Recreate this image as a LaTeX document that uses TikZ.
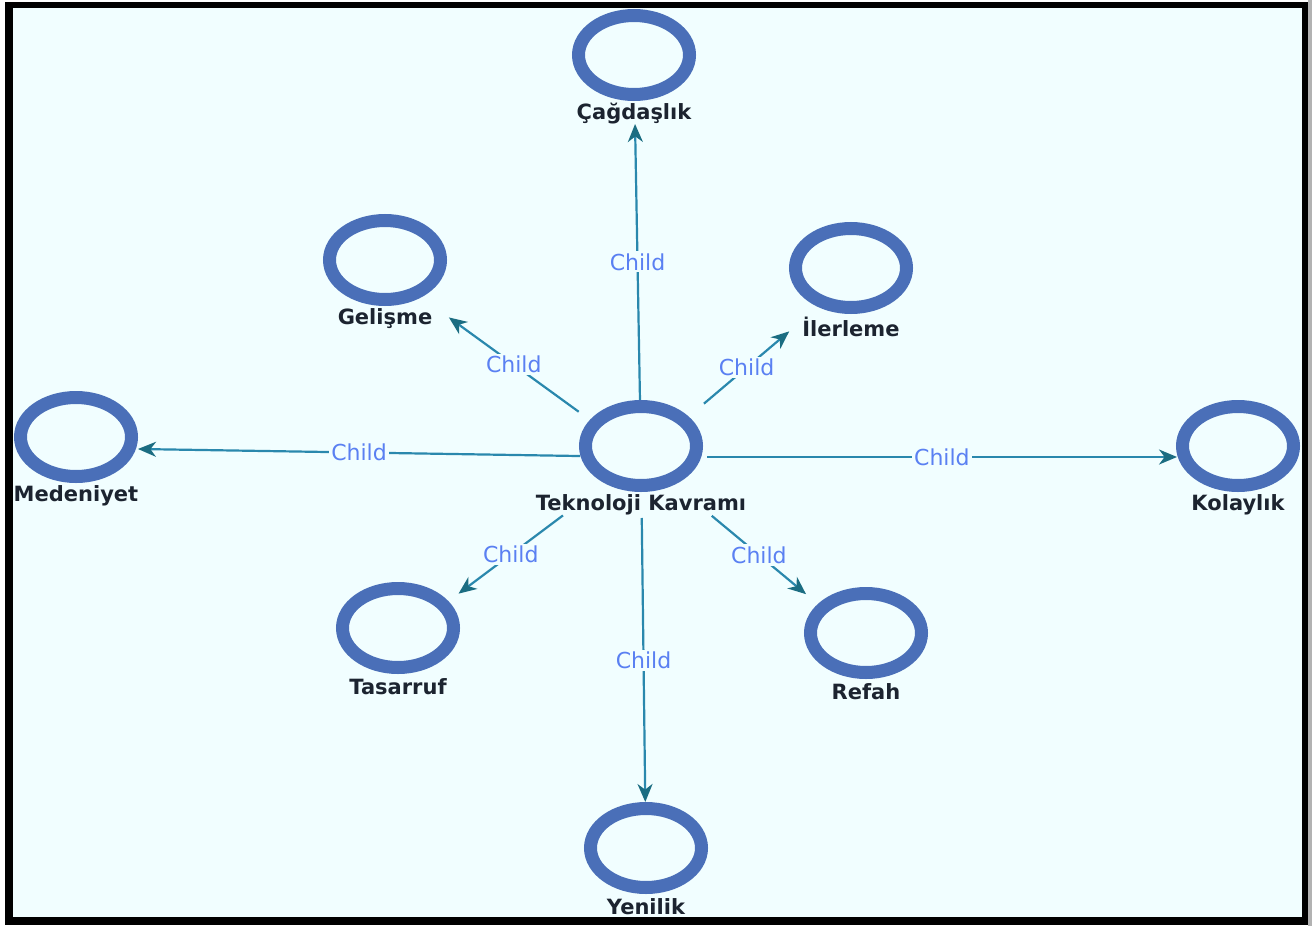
\documentclass[tikz,border=0pt]{standalone}
\usepackage{fontspec}
\setmainfont{DejaVu Sans}
\usetikzlibrary{shapes.geometric,arrows.meta}
\definecolor{bgc}{HTML}{F1FEFF}
\definecolor{ringc}{HTML}{4A6FB8}
\definecolor{edgec}{HTML}{2A88AD}
\definecolor{tipc}{HTML}{1B6D82}
\definecolor{childc}{HTML}{5A80F2}
\definecolor{namec}{HTML}{1C2430}
\tikzset{
  concept/.style={inner sep=0pt, minimum size=1pt},
  ring/.style={ellipse, draw=ringc, line width=6.5pt, fill=bgc, inner sep=0pt,
    minimum width=55.5pt, minimum height=39.5pt},
  cname/.style={inner sep=1pt, text=namec, font=\bfseries\fontsize{10.5}{12}\selectfont},
  edge/.style={draw=edgec, line width=1.1pt, -{Stealth[length=9pt, width=7.5pt, inset=2.8pt, color=tipc]}},
  lbl/.style={fill=bgc, inner sep=1pt, text=childc, font=\fontsize{11}{12}\selectfont}
}
\begin{document}
\begin{tikzpicture}[x=0.5pt, y=-0.5pt]
\useasboundingbox (0,0) rectangle (1312,926);
\fill[white] (0,0) rectangle (1312,926);
\fill[gray!60] (1308,0) rectangle (1312,926);
\fill[black] (5,2) rectangle (1308,925);
\fill[bgc] (13,8) rectangle (1302,917);

% concept anchors (centre of ring + name)
\node[concept] (C)  at (641,457) {};
\node[concept] (K)  at (634,66) {};
\node[concept] (G)  at (385,271) {};
\node[concept] (I)  at (851,279) {};
\node[concept] (M)  at (76,448) {};
\node[concept] (Ko) at (1238,457) {};
\node[concept] (T)  at (398,639) {};
\node[concept] (R)  at (866,644) {};
\node[concept] (Y)  at (646,859) {};

% edges
\draw[edge, shorten <=28.5pt, shorten >=29pt] (C.center) -- node[lbl, pos=0.499] {Child} (K.center);
\draw[edge, shorten <=38.5pt, shorten >=39.5pt] (C.center) -- node[lbl, pos=0.497] {Child} (G.center);
\draw[edge, shorten <=41.25pt, shorten >=40.5pt] (C.center) -- node[lbl, pos=0.503] {Child} (I.center);
\draw[edge, shorten <=30.5pt, shorten >=31pt] (C.center) -- node[lbl, pos=0.499] {Child} (M.center);
\draw[edge, shorten <=33pt, shorten >=30.5pt] (C.center) -- node[lbl, pos=0.504] {Child} (Ko.center);
\draw[edge, shorten <=48.75pt, shorten >=37.8pt] (C.center) -- node[lbl, pos=0.536] {Child} (T.center);
\draw[edge, shorten <=46pt, shorten >=39pt] (C.center) -- node[lbl, pos=0.524] {Child} (R.center);
\draw[edge, shorten <=30.5pt, shorten >=28.5pt] (C.center) -- node[lbl, pos=0.505] {Child} (Y.center);

% rings and names
\foreach \n/\t in {C/Teknoloji Kavramı, K/Çağdaşlık, G/Gelişme, I/İlerleme, M/Medeniyet, Ko/Kolaylık, T/Tasarruf, R/Refah, Y/Yenilik}{
  \node[ring] (\n-ring) at ([yshift=5.5pt]\n.center) {};
  \node[cname] (\n-name) at ([yshift=-24pt]\n.center) {\t};
}
\end{tikzpicture}
\end{document}
